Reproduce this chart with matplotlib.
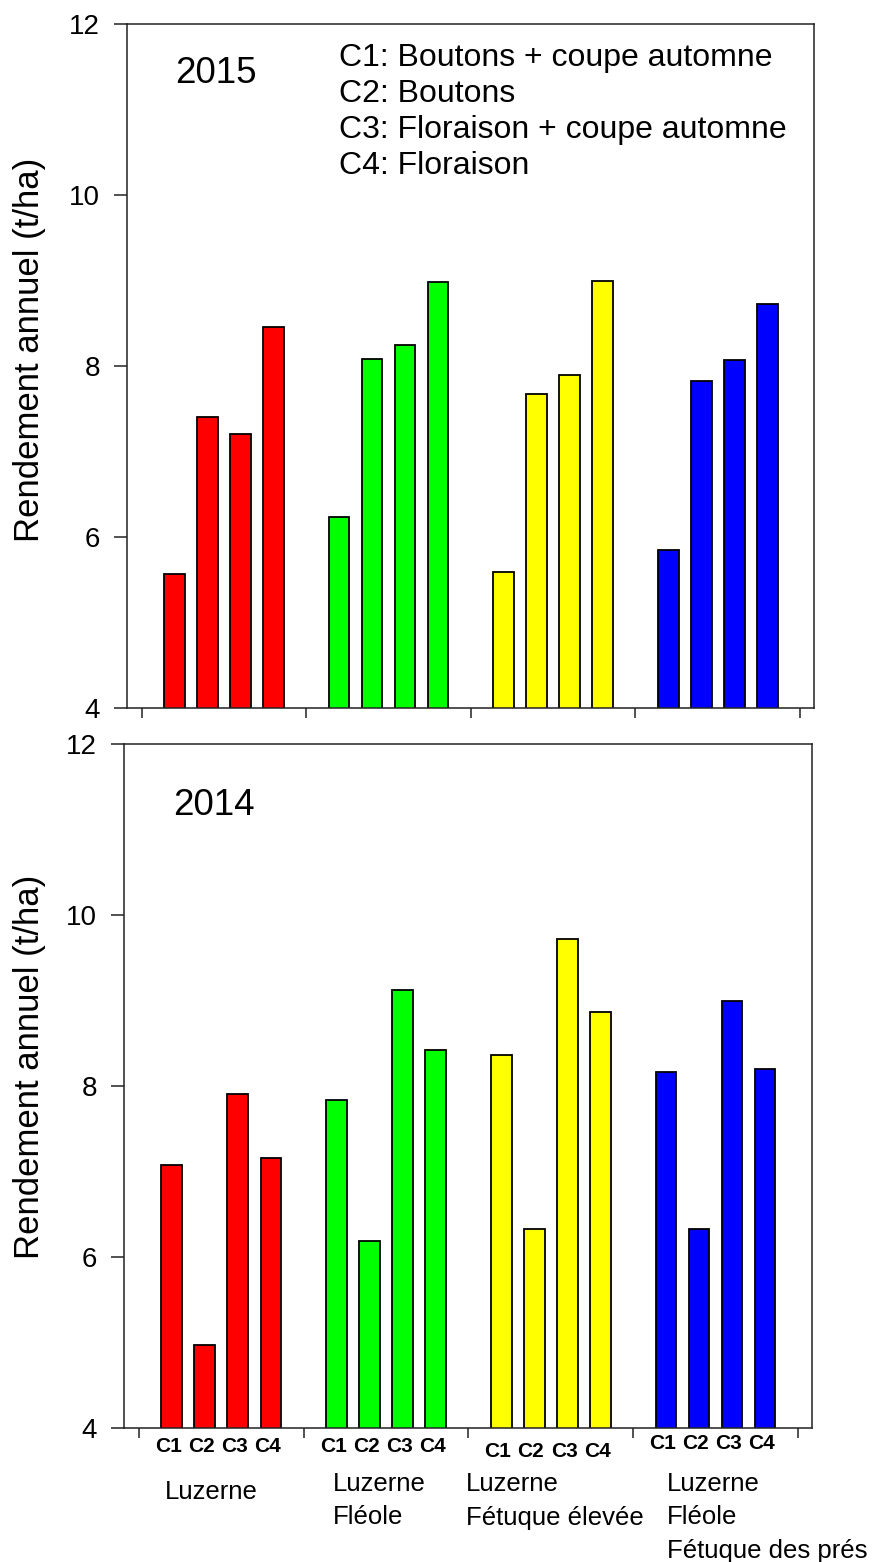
import matplotlib
matplotlib.use('Agg')
import matplotlib.pyplot as plt
import numpy as np
from matplotlib.transforms import blended_transform_factory

plt.rcParams['font.family'] = ['Liberation Sans', 'DejaVu Sans']

# ---------------- data ----------------
groups = ['Luzerne', 'Luzerne\nFléole', 'Luzerne\nFétuque élevée',
          'Luzerne\nFléole\nFétuque des prés']
cuts = ['C1', 'C2', 'C3', 'C4']
colors = ['#FF0000', '#00FF00', '#FFFF00', '#0000FF']

y2015_luzerne = [5.57, 7.40, 7.20, 8.46]
y2015_fleole = [6.23, 8.08, 8.25, 8.98]
y2015_fetuque_elevee = [5.59, 7.67, 7.89, 8.99]
y2015_fleole_fetuque = [5.85, 7.82, 8.07, 8.73]

y2014_luzerne = [7.07, 4.97, 7.90, 7.15]
y2014_fleole = [7.83, 6.19, 9.12, 8.42]
y2014_fetuque_elevee = [8.36, 6.33, 9.72, 8.86]
y2014_fleole_fetuque = [8.16, 6.33, 8.99, 8.20]

yticks = [4, 6, 8, 10, 12]
legend_lines = ['C1: Boutons + coupe automne', 'C2: Boutons',
                'C3: Floraison + coupe automne', 'C4: Floraison']
ylabel = 'Rendement annuel (t/ha)'

# ---------------- layout ----------------
W, H = 876, 1562
fig = plt.figure(figsize=(W / 100, H / 100), dpi=100)


def px_axes(l, t, r, b):
    return fig.add_axes([l / W, 1 - b / H, (r - l) / W, (b - t) / H])


def fx(x):
    return x / W


def fy(y):
    return 1 - y / H


ax1 = px_axes(127, 24, 814, 708)
ax2 = px_axes(124, 743.5, 812, 1428)

offsets = np.array([-0.3, -0.1, 0.1, 0.3]) * 1.003
bar_w = 0.125

data_by_year = [
    (ax1, [y2015_luzerne, y2015_fleole, y2015_fetuque_elevee, y2015_fleole_fetuque]),
    (ax2, [y2014_luzerne, y2014_fleole, y2014_fetuque_elevee, y2014_fleole_fetuque]),
]

for ax, series in data_by_year:
    for g, vals in enumerate(series):
        ax.bar(g + offsets, vals, width=bar_w, color=colors[g],
               edgecolor='black', linewidth=1.3, zorder=2)
    ax.set_ylim(4, 12)
    ax.set_yticks(yticks)
    ax.set_yticklabels([str(t) for t in yticks])
    ax.set_xlim(-0.59, 3.585)
    ax.set_xticks([-0.5, 0.5, 1.5, 2.5, 3.5])
    ax.set_xticklabels([])
    ax.tick_params(axis='y', direction='out', length=9.5, width=1.1,
                   labelsize=20, pad=10, color='#222222')
    ax.tick_params(axis='x', direction='out', length=7, width=1.1,
                   color='#222222')
    for s in ax.spines.values():
        s.set_linewidth(1.1)
        s.set_color('#222222')

# year labels
fig.text(fx(175), fy(83), '2015', fontsize=26.5, va='baseline', ha='left')
fig.text(fx(173), fy(815), '2014', fontsize=26.5, va='baseline', ha='left')

# legend text
for i, line in enumerate(legend_lines):
    fig.text(fx(339), fy(66 + i * 36), line, fontsize=23, va='baseline', ha='left')

# y labels
fig.text(fx(30), fy(350), ylabel, rotation=90, ha='center', va='center', fontsize=25)
fig.text(fx(30), fy(1067), ylabel, rotation=90, ha='center', va='center', fontsize=25)

# cut labels under bottom panel
trans = blended_transform_factory(ax2.transData, fig.transFigure)
cut_baselines = [1452, 1452, 1457, 1449]
for g in range(4):
    for k, c in enumerate(cuts):
        ax2.text(g + offsets[k] - 0.02, fy(cut_baselines[g]), c, transform=trans,
                 ha='center', va='baseline', fontsize=15, fontweight='bold',
                 clip_on=False)

# group names
name_left = [165, 333, 466, 667]
name_first_baseline = [1499, 1491, 1491, 1491]
for g, name in enumerate(groups):
    for i, line in enumerate(name.split('\n')):
        fig.text(fx(name_left[g]), fy(name_first_baseline[g] + i * 33.5), line,
                 fontsize=18.5, ha='left', va='baseline')

fig.savefig('out.png', dpi=100)
